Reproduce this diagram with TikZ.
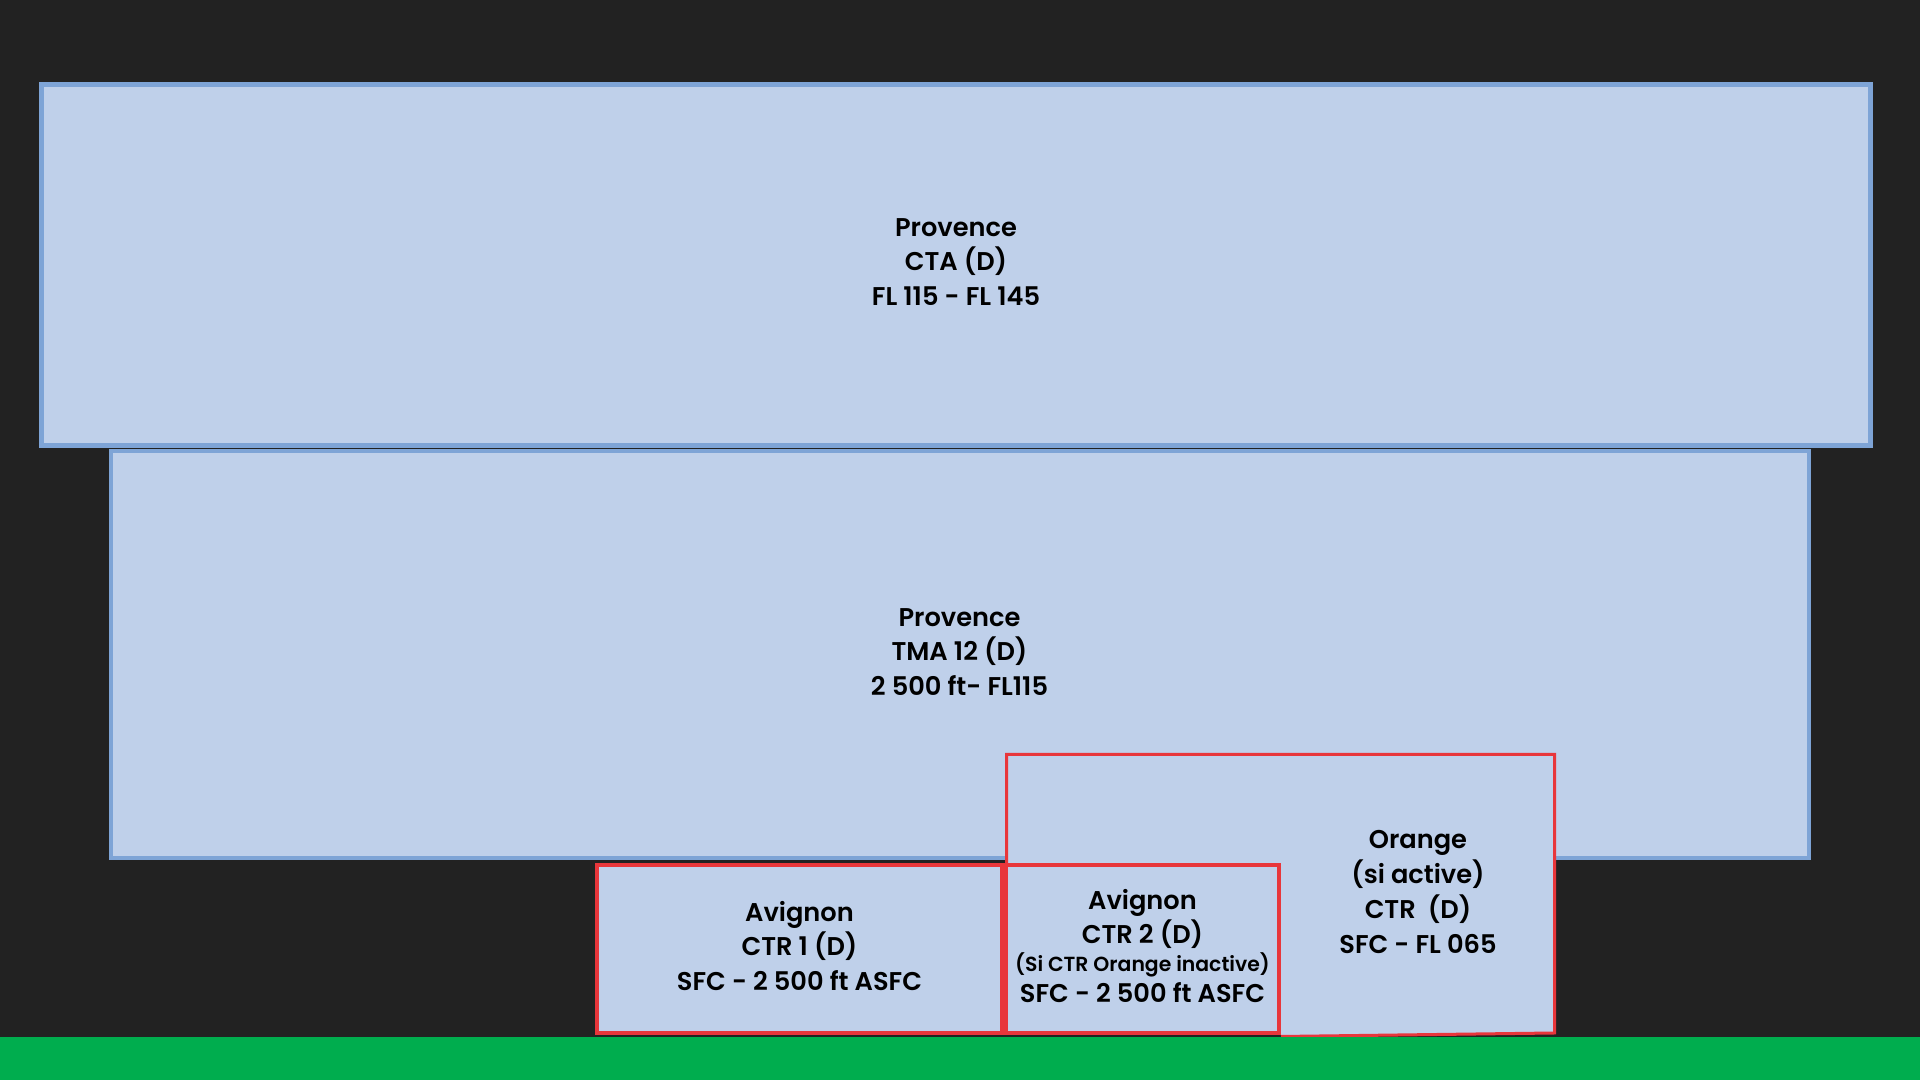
\documentclass[tikz,border=0pt]{standalone}
\usepackage{fontspec}
\setmainfont{Poppins}[BoldFont={Poppins SemiBold}]
\usepackage{xcolor}
\usepackage{tikz}
\usetikzlibrary{positioning}
\definecolor{night}{HTML}{222222}
\definecolor{skyfill}{HTML}{BFD0EA}
\definecolor{skyline}{HTML}{7EA4D6}
\definecolor{ctrred}{HTML}{E8363B}
\definecolor{ground}{HTML}{00AD4E}

\begin{document}
\begin{tikzpicture}[
      x=0.01cm,y=-0.01cm,
      font=\fontsize{7.3}{9.9}\selectfont\bfseries,
      zone/.style={draw=skyline,fill=skyfill,align=center,inner sep=0pt},
      ctrzone/.style={draw=ctrred,fill=skyfill,align=center,inner sep=0pt,line width=0.045cm}
    ]
      \fill[night] (0,0) rectangle (1920,1080);
      \useasboundingbox (0,0) rectangle (1920,1080);

      \node[zone,line width=0.05cm,minimum width=18.27cm,minimum height=3.61cm] (cta) at (956,265) {};
      \node[align=center] (ctalbl) at (956,262) {Provence\\CTA (D)\\FL 115 - FL 145};
      \node[zone,line width=0.04cm,minimum width=16.97cm,minimum height=4.07cm] (tma) at (959.5,654.5) {};
      \node[align=center] (tmalbl) at (959.5,652) {Provence\\TMA 12 (D)\\2 500 ft- FL115};

      % Orange CTR (L-shaped outline behind Avignon CTR 2)
      \fill[skyfill] (1006.5,754.5) -- (1554.5,754.5) -- (1554.5,1033) -- (1281,1036.5) -- (1281,865) -- (1006.5,865) -- cycle;
      \draw[ctrred,line width=0.03cm] (1006.5,865) -- (1006.5,754.5) -- (1554.5,754.5) -- (1554.5,1033) -- (1281,1036.5);
      \node[align=center] (orange) at (1418,892) {Orange\\(si active)\\CTR~~(D)\\SFC - FL 065};

      \node[ctrzone,minimum width=4.05cm,minimum height=1.68cm] (ctrone) at (799.5,949) {};
      \node[align=center] (ctronelbl) at (799.5,946) {Avignon\\CTR 1 (D)\\SFC - 2 500 ft ASFC};
      \node[ctrzone,minimum width=2.73cm,minimum height=1.68cm] (ctrtwo) at (1142.5,949) {};
      \node[align=center] (ctrtwolbl) at (1142.5,946) {Avignon\\CTR 2 (D)\\[-2pt]{\fontsize{5.8}{7.6}\selectfont (Si CTR Orange inactive)}\\[-1pt]SFC - 2 500 ft ASFC};

      \fill[ground] (0,1037) rectangle (1920,1080);
    \end{tikzpicture}
\end{document}
